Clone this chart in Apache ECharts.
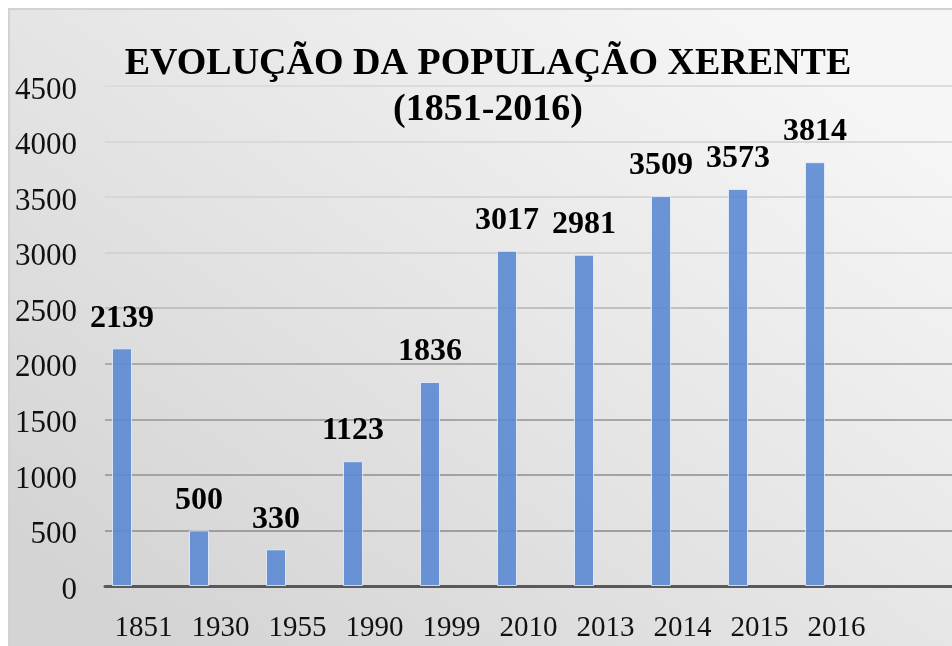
<!DOCTYPE html>
<html>
<head>
<meta charset="utf-8">
<script src="https://cdn.jsdelivr.net/npm/echarts@6/dist/echarts.min.js"></script>
<style>html,body{margin:0;padding:0;background:#fff}#c{width:952px;height:646px}</style>
</head>
<body>
<div id="c"></div>
<script>
const categories = ['1851','1930','1955','1990','1999','2010','2013','2014','2015','2016'];
const population = [2139, 500, 330, 1123, 1836, 3017, 2981, 3509, 3573, 3814];
const yTicks = {min: 0, max: 4500, interval: 500};
const titleText = 'EVOLUÇÃO DA POPULAÇÃO XERENTE\n(1851-2016)';

const serif = "'Liberation Serif', 'Times New Roman', serif";
const chart = echarts.init(document.getElementById('c'));
chart.setOption({
  backgroundColor: '#ffffff',
  animation: false,
  graphic: [{
    type: 'rect', z: -100, silent: true,
    shape: {x: 9, y: 9, width: 1000, height: 700},
    style: {
      fill: {type: 'linear', x: 0.75, y: 0, x2: 0.25, y2: 1, colorStops: [
        {offset: 0, color: '#f6f6f6'}, {offset: 1, color: '#d4d4d4'}]},
      stroke: '#d2d2d2', lineWidth: 2
    }
  }],
  title: {
    text: titleText,
    left: 488, top: 41, textAlign: 'center', padding: 0,
    textStyle: {fontFamily: serif, fontWeight: 'bold', fontSize: 38, lineHeight: 46, color: '#000'}
  },
  grid: {left: 105, top: 86, bottom: 60, right: -3, containLabel: false},
  xAxis: {
    type: 'category', data: categories, max: 10,
    axisLine: {lineStyle: {color: '#595959', width: 3}},
    axisTick: {show: false},
    axisLabel: {fontFamily: serif, fontSize: 29, color: '#111', margin: 28, interval: 0},
    splitLine: {show: false}
  },
  yAxis: {
    type: 'value', min: yTicks.min, max: yTicks.max, interval: yTicks.interval,
    axisLine: {show: false}, axisTick: {show: false},
    axisLabel: {fontFamily: serif, fontSize: 31, color: '#111', margin: 28,
      formatter: v => '{a|' + v + '}',
      rich: {a: {fontFamily: serif, fontSize: 31, color: '#111', padding: [9, 0, 0, 0]}}},
    splitLine: {lineStyle: {width: 2, color: {type: 'linear', global: true, x: 0, y: 86, x2: 0, y2: 586, colorStops: [
      {offset: 0, color: '#dcdcdc'}, {offset: 0.35, color: '#d2d2d2'}, {offset: 0.55, color: '#ababab'}, {offset: 1, color: '#9a9a9a'}]}}}
  },
  series: [{
    type: 'bar', name: 'População', data: population,
    barWidth: 20, barGap: '115%',
    itemStyle: {color: 'rgba(92,138,212,0.9)', borderColor: 'rgba(235,242,252,0.8)', borderWidth: 1},
    label: {show: true, position: 'top', distance: 14, fontFamily: serif, fontWeight: 'bold', fontSize: 32, color: '#000'}
  }, {
    type: 'bar', name: 'vazio', data: [], barWidth: 20
  }]
});
</script>
</body>
</html>
